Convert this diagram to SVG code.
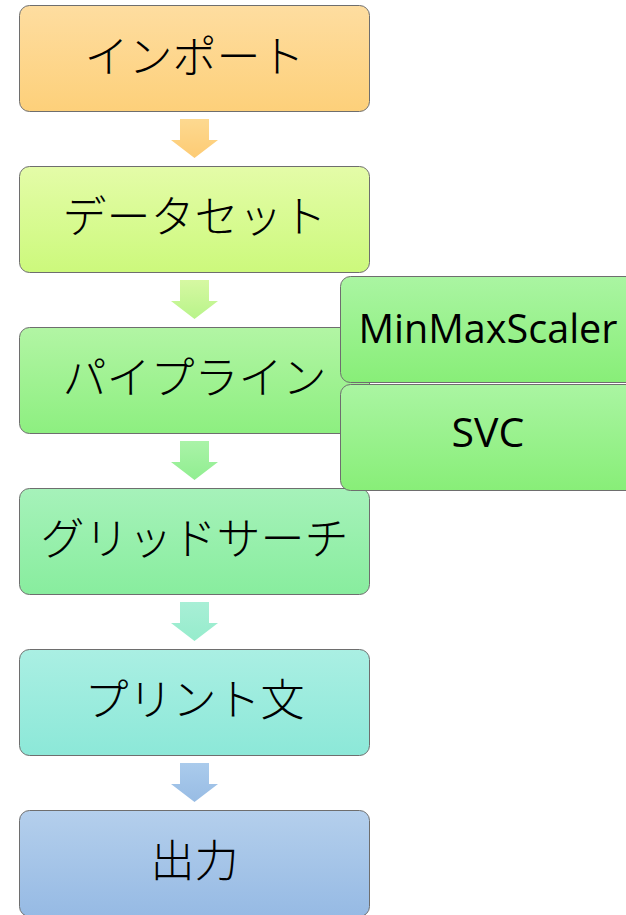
<svg xmlns="http://www.w3.org/2000/svg" width="626" height="915" viewBox="0 0 626 915">
<defs>
<linearGradient id="g1" x1="0" y1="0" x2="0" y2="1"><stop offset="0" stop-color="#fedda0"/><stop offset="1" stop-color="#fdd07a"/></linearGradient>
<linearGradient id="g2" x1="0" y1="0" x2="0" y2="1"><stop offset="0" stop-color="#e4fca8"/><stop offset="1" stop-color="#ccf97c"/></linearGradient>
<linearGradient id="g3" x1="0" y1="0" x2="0" y2="1"><stop offset="0" stop-color="#b2f5a4"/><stop offset="1" stop-color="#8def80"/></linearGradient>
<linearGradient id="g4" x1="0" y1="0" x2="0" y2="1"><stop offset="0" stop-color="#a6f2ba"/><stop offset="1" stop-color="#88ed9e"/></linearGradient>
<linearGradient id="g5" x1="0" y1="0" x2="0" y2="1"><stop offset="0" stop-color="#aaefe3"/><stop offset="1" stop-color="#8ce8d8"/></linearGradient>
<linearGradient id="g6" x1="0" y1="0" x2="0" y2="1"><stop offset="0" stop-color="#b4cfec"/><stop offset="1" stop-color="#96bae4"/></linearGradient>
<linearGradient id="gs" x1="0" y1="0" x2="0" y2="1"><stop offset="0" stop-color="#aaf5a2"/><stop offset="1" stop-color="#88ee78"/></linearGradient>
<linearGradient id="a1" x1="0" y1="0" x2="0" y2="1"><stop offset="0" stop-color="#fdd990"/><stop offset="1" stop-color="#fdcb74"/></linearGradient>
<linearGradient id="a2" x1="0" y1="0" x2="0" y2="1"><stop offset="0" stop-color="#d6f8a2"/><stop offset="1" stop-color="#b8f48a"/></linearGradient>
<linearGradient id="a3" x1="0" y1="0" x2="0" y2="1"><stop offset="0" stop-color="#aaf3a8"/><stop offset="1" stop-color="#90ee90"/></linearGradient>
<linearGradient id="a4" x1="0" y1="0" x2="0" y2="1"><stop offset="0" stop-color="#a8efd6"/><stop offset="1" stop-color="#96eccc"/></linearGradient>
<linearGradient id="a5" x1="0" y1="0" x2="0" y2="1"><stop offset="0" stop-color="#aacbec"/><stop offset="1" stop-color="#98bce4"/></linearGradient>
<path id="arr" d="M180,0 H209 V21 H218 L194.5,39 L171,21 H180 Z"/>
</defs>
<style>
.box{stroke:#6e6e6e;stroke-width:1}
.jp{font-family:"Noto Sans CJK JP","Noto Sans CJK SC",sans-serif;font-size:44px;font-weight:300;fill:#000;text-anchor:middle;dominant-baseline:central}
.en{font-family:"Open Sans","Noto Sans",sans-serif;font-size:41px;fill:#000;text-anchor:middle}
</style>
<g id="connectors">
<use href="#arr" y="119" fill="url(#a1)"/>
<use href="#arr" y="280" fill="url(#a2)"/>
<use href="#arr" y="441" fill="url(#a3)"/>
<use href="#arr" y="602" fill="url(#a4)"/>
<use href="#arr" y="763" fill="url(#a5)"/>
</g>
<g id="node-import"><rect class="box" x="19.5" y="5.5" width="350" height="106" rx="10" fill="url(#g1)"/><text class="jp" x="194.5" y="53.5">インポート</text></g>
<g id="node-dataset"><rect class="box" x="19.5" y="166.5" width="350" height="106" rx="10" fill="url(#g2)"/><text class="jp" x="194.5" y="214">データセット</text></g>
<g id="node-pipeline"><rect class="box" x="19.5" y="327.5" width="350" height="106" rx="10" fill="url(#g3)"/><text class="jp" x="194.5" y="375">パイプライン</text></g>
<g id="node-gridsearch"><rect class="box" x="19.5" y="488.5" width="350" height="106" rx="10" fill="url(#g4)"/><text class="jp" x="194.5" y="536">グリッドサーチ</text></g>
<g id="node-print"><rect class="box" x="19.5" y="649.5" width="350" height="106" rx="10" fill="url(#g5)"/><text class="jp" x="194.5" y="697">プリント文</text></g>
<g id="node-output"><rect class="box" x="19.5" y="810.5" width="350" height="106" rx="10" fill="url(#g6)"/><text class="jp" x="194.5" y="858">出力</text></g>
<g id="node-minmax"><rect class="box" x="340.5" y="276.5" width="300" height="106" rx="10" fill="url(#gs)"/><text class="en" x="488" y="343" textLength="259" lengthAdjust="spacingAndGlyphs">MinMaxScaler</text></g>
<g id="node-svc"><rect class="box" x="340.5" y="384.5" width="300" height="106" rx="10" fill="url(#gs)"/><text class="en" x="488" y="447">SVC</text></g>
</svg>
